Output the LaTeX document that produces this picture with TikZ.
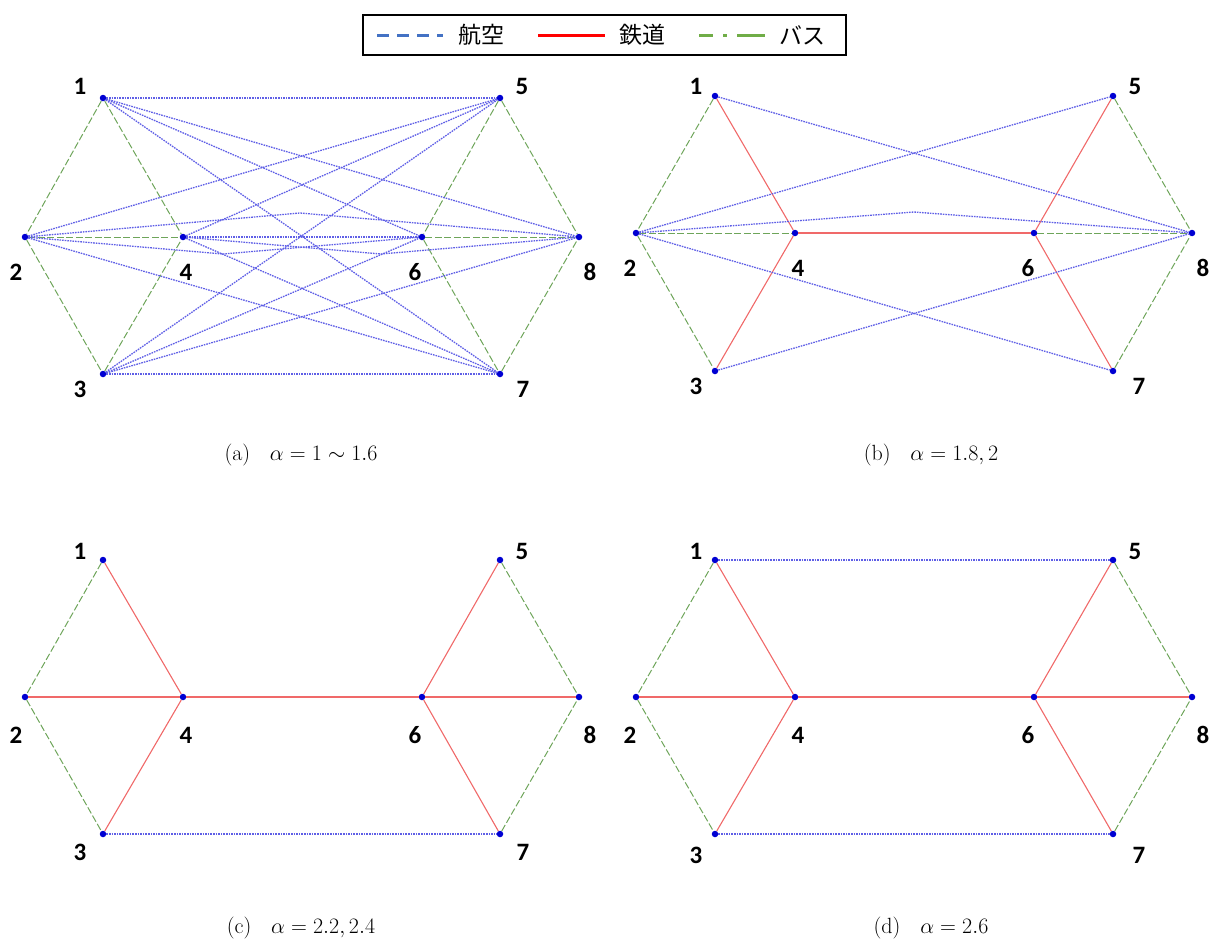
\RequirePackage{fix-cm}
\documentclass[tikz,border=0pt]{standalone}
\usepackage{amsmath, amssymb}
\usepackage{fontspec}
\setsansfont{Carlito}
\newfontfamily\jpfont{Noto Sans CJK JP}
\usepackage{tikz}

\definecolor{aircol}{RGB}{95,95,230}
\definecolor{railcol}{RGB}{240,105,105}
\definecolor{buscol}{RGB}{110,165,90}
\definecolor{airkey}{RGB}{68,114,196}
\definecolor{buskey}{RGB}{112,173,71}
\definecolor{dotcol}{RGB}{0,0,210}

\tikzset{
  stn/.style={circle, inner sep=0pt, minimum size=6.5pt, fill=dotcol},
  lab/.style={font=\sffamily\bfseries\fontsize{25}{25}\selectfont, inner sep=0pt},
  captxt/.style={font=\fontsize{22}{22}\selectfont, inner sep=0pt},
  air/.style={aircol, line width=1.3pt, dash pattern=on 1.6pt off 1pt},
  rail/.style={railcol, line width=1.1pt},
  bus/.style={buscol, line width=1pt, dash pattern=on 7pt off 2.5pt},
}

\begin{document}
\begin{tikzpicture}[x=1pt, y=-1pt]
\useasboundingbox (0,0) rectangle (1217,943);

% legend
\node (keybox) at (604.5,35) [draw, line width=1.4pt, minimum width=483pt, minimum height=40pt, inner sep=0pt] {};
\coordinate (airs) at (377,35);
\coordinate (aire) at (443,35);
\coordinate (rails) at (538,35);
\coordinate (raile) at (605,35);
\coordinate (buss) at (699,35);
\coordinate (buse) at (766,35);
\draw[airkey, line width=3pt, dash pattern=on 12pt off 8pt] (airs) -- (aire);
\draw[red, line width=3pt] (rails) -- (raile);
\draw[buskey, line width=3pt, dash pattern=on 14pt off 10pt on 4pt off 10pt on 14pt off 0pt] (buss) -- (buse);
\node (airtxt) at (481,35) [font=\jpfont\fontsize{23}{23}\selectfont] {航空};
\node (railtxt) at (642,35) [font=\jpfont\fontsize{23}{23}\selectfont] {鉄道};
\node (bustxt) at (802,35) [font=\jpfont\fontsize{23}{23}\selectfont] {バス};

% (a)
\node (a1) at (103,98) [stn] {};
\node (a2) at (25,237) [stn] {};
\node (a3) at (103,374) [stn] {};
\node (a4) at (183,237) [stn] {};
\node (a5) at (500,98) [stn] {};
\node (a6) at (422,237) [stn] {};
\node (a7) at (500,374) [stn] {};
\node (a8) at (579,237) [stn] {};
\coordinate (a28) at (300,213);
\coordinate (a26) at (223,254);
\coordinate (a48) at (381,254);
\draw[bus] (a1) -- (a2);
\draw[bus] (a1) -- (a4);
\draw[bus] (a2) -- (a3);
\draw[bus] (a3) -- (a4);
\draw[bus] (a2) -- (a4);
\draw[bus] (a5) -- (a6);
\draw[bus] (a5) -- (a8);
\draw[bus] (a6) -- (a7);
\draw[bus] (a7) -- (a8);
\draw[bus] (a6) -- (a8);
\draw[air] (a1) -- (a5);
\draw[air] (a1) -- (a6);
\draw[air] (a1) -- (a7);
\draw[air] (a1) -- (a8);
\draw[air] (a2) -- (a5);
\draw[air] (a2) -- (a26) -- (a6);
\draw[air] (a2) -- (a7);
\draw[air] (a2) -- (a28) -- (a8);
\draw[air] (a3) -- (a5);
\draw[air] (a3) -- (a6);
\draw[air] (a3) -- (a7);
\draw[air] (a3) -- (a8);
\draw[air] (a4) -- (a5);
\draw[air] (a4) -- (a6);
\draw[air] (a4) -- (a7);
\draw[air] (a4) -- (a48) -- (a8);
\node (la1) at (80,86) [lab] {1};
\node (la2) at (16,272) [lab] {2};
\node (la3) at (80,389) [lab] {3};
\node (la4) at (186,272) [lab] {4};
\node (la5) at (522,86) [lab] {5};
\node (la6) at (415,272) [lab] {6};
\node (la7) at (523,389) [lab] {7};
\node (la8) at (590,272) [lab] {8};
\node (capa) at (301,455) [captxt] {(a)\hspace{0.9em}$\alpha = 1 \sim 1.6$};

% (b)
\node (b1) at (715,96) [stn] {};
\node (b2) at (636,233) [stn] {};
\node (b3) at (715,371) [stn] {};
\node (b4) at (795,233) [stn] {};
\node (b5) at (1113,96) [stn] {};
\node (b6) at (1034,233) [stn] {};
\node (b7) at (1113,371) [stn] {};
\node (b8) at (1192,233) [stn] {};
\coordinate (b28) at (914,212);
\draw[bus] (b1) -- (b2);
\draw[bus] (b2) -- (b3);
\draw[bus] (b5) -- (b8);
\draw[bus] (b7) -- (b8);
\draw[bus] (b2) -- (b4);
\draw[bus] (b6) -- (b8);
\draw[rail] (b1) -- (b4);
\draw[rail] (b3) -- (b4);
\draw[rail] (b4) -- (b6);
\draw[rail] (b5) -- (b6);
\draw[rail] (b6) -- (b7);
\draw[air] (b1) -- (b8);
\draw[air] (b2) -- (b5);
\draw[air] (b2) -- (b7);
\draw[air] (b3) -- (b8);
\draw[air] (b2) -- (b28) -- (b8);
\node (lb1) at (696,86) [lab] {1};
\node (lb2) at (630,268) [lab] {2};
\node (lb3) at (696,386) [lab] {3};
\node (lb4) at (798,268) [lab] {4};
\node (lb5) at (1135,86) [lab] {5};
\node (lb6) at (1028,268) [lab] {6};
\node (lb7) at (1139,386) [lab] {7};
\node (lb8) at (1203,268) [lab] {8};
\node (capb) at (931,455) [captxt] {(b)\hspace{0.9em}$\alpha = 1.8, 2$};

% (c)
\node (c1) at (103,560) [stn] {};
\node (c2) at (25,697) [stn] {};
\node (c3) at (103,834) [stn] {};
\node (c4) at (183,697) [stn] {};
\node (c5) at (500,560) [stn] {};
\node (c6) at (422,697) [stn] {};
\node (c7) at (500,834) [stn] {};
\node (c8) at (579,697) [stn] {};
\draw[bus] (c1) -- (c2);
\draw[bus] (c2) -- (c3);
\draw[bus] (c5) -- (c8);
\draw[bus] (c7) -- (c8);
\draw[rail] (c1) -- (c4);
\draw[rail] (c2) -- (c4);
\draw[rail] (c3) -- (c4);
\draw[rail] (c4) -- (c6);
\draw[rail] (c5) -- (c6);
\draw[rail] (c6) -- (c7);
\draw[rail] (c6) -- (c8);
\draw[air] (c3) -- (c7);
\node (lc1) at (80,551) [lab] {1};
\node (lc2) at (16,735) [lab] {2};
\node (lc3) at (80,852) [lab] {3};
\node (lc4) at (186,735) [lab] {4};
\node (lc5) at (522,551) [lab] {5};
\node (lc6) at (415,735) [lab] {6};
\node (lc7) at (523,852) [lab] {7};
\node (lc8) at (590,735) [lab] {8};
\node (capc) at (301,928) [captxt] {(c)\hspace{0.9em}$\alpha = 2.2, 2.4$};

% (d)
\node (d1) at (715,560) [stn] {};
\node (d2) at (636,697) [stn] {};
\node (d3) at (715,834) [stn] {};
\node (d4) at (795,697) [stn] {};
\node (d5) at (1113,560) [stn] {};
\node (d6) at (1034,697) [stn] {};
\node (d7) at (1113,834) [stn] {};
\node (d8) at (1192,697) [stn] {};
\draw[bus] (d1) -- (d2);
\draw[bus] (d2) -- (d3);
\draw[bus] (d5) -- (d8);
\draw[bus] (d7) -- (d8);
\draw[rail] (d1) -- (d4);
\draw[rail] (d2) -- (d4);
\draw[rail] (d3) -- (d4);
\draw[rail] (d4) -- (d6);
\draw[rail] (d5) -- (d6);
\draw[rail] (d6) -- (d7);
\draw[rail] (d6) -- (d8);
\draw[air] (d1) -- (d5);
\draw[air] (d3) -- (d7);
\node (ld1) at (696,551) [lab] {1};
\node (ld2) at (630,735) [lab] {2};
\node (ld3) at (696,855) [lab] {3};
\node (ld4) at (798,735) [lab] {4};
\node (ld5) at (1135,551) [lab] {5};
\node (ld6) at (1028,735) [lab] {6};
\node (ld7) at (1139,855) [lab] {7};
\node (ld8) at (1203,735) [lab] {8};
\node (capd) at (931,928) [captxt] {(d)\hspace{0.9em}$\alpha = 2.6$};
\end{tikzpicture}
\end{document}
